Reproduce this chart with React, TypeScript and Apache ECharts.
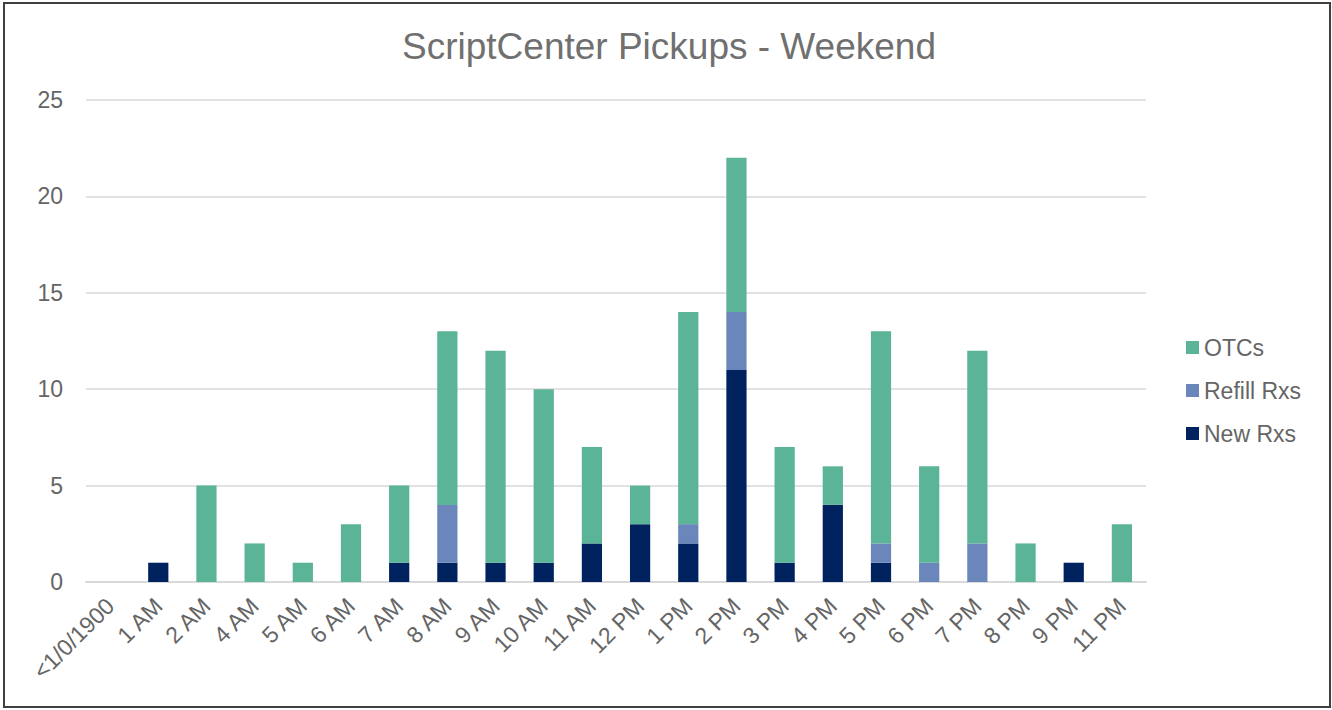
import React, { useEffect, useRef } from "react";
import * as echarts from "echarts";

const categories = ["<1/0/1900", "1 AM", "2 AM", "4 AM", "5 AM", "6 AM", "7 AM", "8 AM", "9 AM", "10 AM", "11 AM", "12 PM", "1 PM", "2 PM", "3 PM", "4 PM", "5 PM", "6 PM", "7 PM", "8 PM", "9 PM", "11 PM"];
const newRxs = [0, 1, 0, 0, 0, 0, 1, 1, 1, 1, 2, 3, 2, 11, 1, 4, 1, 0, 0, 0, 1, 0];
const refillRxs = [0, 0, 0, 0, 0, 0, 0, 3, 0, 0, 0, 0, 1, 3, 0, 0, 1, 1, 2, 0, 0, 0];
const otcs = [0, 0, 5, 2, 1, 3, 4, 9, 11, 9, 5, 2, 11, 8, 6, 2, 11, 5, 10, 2, 0, 3];

const FONT = "'Liberation Sans', Arial, sans-serif";
const TEXT = "#656565";

export default function App() {
  const ref = useRef<HTMLDivElement>(null);
  useEffect(() => {
    if (!ref.current) return;
    const chart = echarts.init(ref.current, undefined, { renderer: "svg" });
    const mk = (name: string, data: number[], color: string) => ({
      name,
      type: "bar",
      stack: "total",
      data: data.map((v) => (v === 0 ? null : v)),
      barWidth: "42%",
      itemStyle: { color },
    });
    chart.setOption({
      animation: false,
      textStyle: { fontFamily: FONT },
      title: {
        text: "ScriptCenter Pickups - Weekend",
        left: 669,
        textAlign: "center",
        top: 28,
        padding: 0,
        textStyle: { fontFamily: FONT, fontSize: 37, fontWeight: "normal", color: "#707070" },
      },
      legend: {
        orient: "vertical",
        left: 1186,
        top: 336,
        padding: 0,
        itemWidth: 13,
        itemHeight: 13,
        itemGap: 20,
        icon: "rect",
        data: ["OTCs", "Refill Rxs", "New Rxs"],
        textStyle: { fontFamily: FONT, fontSize: 23, color: TEXT, padding: [0, 0, 0, 0] },
      },
      grid: { left: 86, right: 186, top: 100, bottom: 128, containLabel: false },
      xAxis: {
        type: "category",
        data: categories,
        axisLine: { show: true, lineStyle: { color: "#d9d9d9", width: 2 } },
        axisTick: { show: false },
        axisLabel: {
          rotate: 45,
          interval: 0,
          margin: 20,
          fontFamily: FONT,
          fontSize: 23,
          color: TEXT,
        },
      },
      yAxis: {
        type: "value",
        min: 0,
        max: 25,
        interval: 5,
        axisLine: { show: false },
        axisTick: { show: false },
        splitLine: { lineStyle: { color: "#d9d9d9", width: 1.5 } },
        axisLabel: { margin: 23, fontFamily: FONT, fontSize: 23, color: TEXT },
      },
      series: [
        mk("New Rxs", newRxs, "#002360"),
        mk("Refill Rxs", refillRxs, "#6b86bb"),
        mk("OTCs", otcs, "#5bb398"),
      ],
    });
    return () => chart.dispose();
  }, []);
  return (
    <div style={{ position: "fixed", left: 0, top: 0, width: 1332, height: 710, background: "#fff" }}>
      <div ref={ref} style={{ position: "absolute", left: 0, top: 0, width: 1332, height: 710 }} />
      <div
        style={{
          position: "absolute",
          left: 3,
          top: 2,
          width: 1324,
          height: 702,
          border: "2px solid #3f3f3f",
          pointerEvents: "none",
        }}
      />
    </div>
  );
}
